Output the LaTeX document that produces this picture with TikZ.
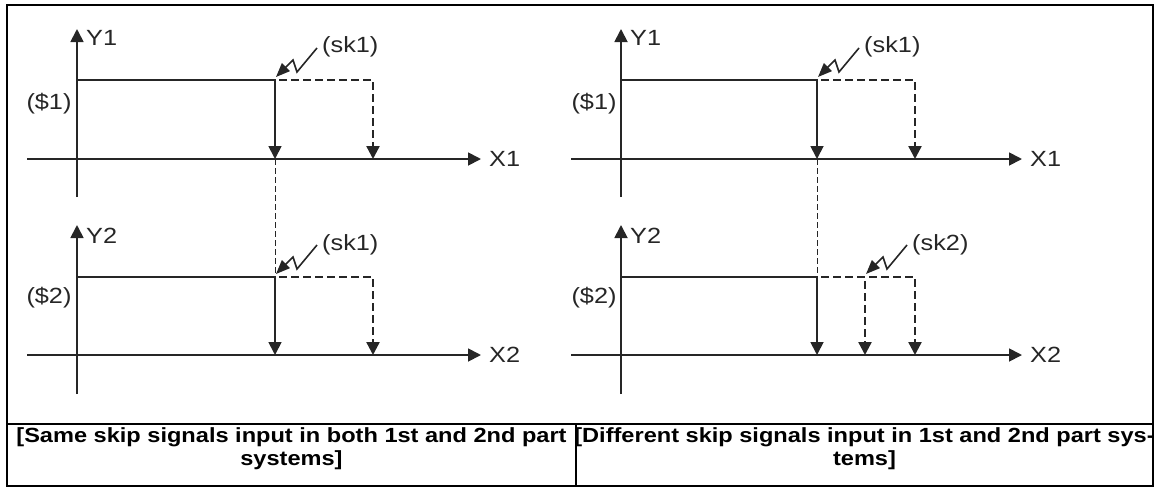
\documentclass[tikz,border=0pt]{standalone}
\usepackage{fontspec}
\setmainfont{Liberation Sans}[FakeStretch=1.15]
\usetikzlibrary{arrows.meta,positioning,calc}
\begin{document}
\begin{tikzpicture}[x=1pt,y=-1pt,>={Triangle[length=13pt,width=13pt]}]
\tikzstyle{ax}=[draw=black!85,line width=1.8pt]
\tikzstyle{dsh}=[draw=black!85,line width=2.4pt,dash pattern=on 8pt off 4pt,dash phase=-4pt]
\tikzstyle{thn}=[draw=black!85,line width=1pt,dash pattern=on 6pt off 3pt]
\tikzstyle{zig}=[draw=black!85,line width=1.6pt,-{Triangle[length=14pt,width=11pt]}]
\tikzstyle{L}=[font=\fontsize{22}{25}\selectfont,text=black!85,inner sep=0pt]
\tikzstyle{C}=[font=\bfseries\fontsize{20.5}{23}\selectfont,align=center,inner sep=0pt]
\useasboundingbox (0,0) rectangle (1154,488);
% frame and caption row
\draw[line width=2.4pt] (7,5) rectangle (1153,486);
\draw[line width=2.4pt] (7,424) -- (1153,424);
\draw[line width=2.4pt] (576,424) -- (576,486);
\node[C] (capA) at (291.5,449) {[Same skip signals input in both 1st and 2nd part\\systems]};
\node[C] (capB) at (864.5,449) {[Different skip signals input in 1st and 2nd part sys-\\tems]};

% ---- same skip signal, 1st part system
\coordinate (ya1) at (77,197); \coordinate (yb1) at (77,29);
\coordinate (xa1) at (27,159); \coordinate (xb1) at (481,159);
\draw[ax,->] (ya1) -- (yb1);
\draw[ax,->] (xa1) -- (xb1);
\node[L,anchor=west] (Y1a) at (86,38) {Y1};
\node[L,anchor=west] (X1a) at (489,159) {X1};
\node[L] (S1a) at (49,104) {(\$1)};
\coordinate (p1) at (77,80); \coordinate (q1) at (275,80); \coordinate (r1) at (373,80);
\draw[ax,->] (p1) -- (q1) -- (q1 |- xb1);
\draw[dsh,->] (q1) -- (r1) -- (r1 |- xb1);
\node[L,anchor=west] (k1a) at (322,47) {(sk1)};
\draw[zig] ($(q1)+(42,-32)$) -- ++(-20,24) -- ++(-4,-12) -- ($(q1)+(1,-3)$);

% ---- same skip signal, 2nd part system
\coordinate (ya2) at (77,394); \coordinate (yb2) at (77,225);
\coordinate (xa2) at (27,355); \coordinate (xb2) at (481,355);
\draw[ax,->] (ya2) -- (yb2);
\draw[ax,->] (xa2) -- (xb2);
\node[L,anchor=west] (Y2a) at (86,236) {Y2};
\node[L,anchor=west] (X2a) at (489,355) {X2};
\node[L] (S2a) at (49,298) {(\$2)};
\coordinate (p2) at (77,277); \coordinate (q2) at (275,277); \coordinate (r2) at (373,277);
\draw[thn] (q1 |- xb1) -- (q2);
\draw[ax,->] (p2) -- (q2) -- (q2 |- xb2);
\draw[dsh,->] (q2) -- (r2) -- (r2 |- xb2);
\node[L,anchor=west] (k2a) at (322,245) {(sk1)};
\draw[zig] ($(q2)+(42,-32)$) -- ++(-20,24) -- ++(-4,-12) -- ($(q2)+(1,-3)$);

% ---- different skip signals, 1st part system
\coordinate (ya3) at (621,197); \coordinate (yb3) at (621,29);
\coordinate (xa3) at (571,159); \coordinate (xb3) at (1022,159);
\draw[ax,->] (ya3) -- (yb3);
\draw[ax,->] (xa3) -- (xb3);
\node[L,anchor=west] (Y1b) at (630,38) {Y1};
\node[L,anchor=west] (X1b) at (1030,159) {X1};
\node[L] (S1b) at (594,104) {(\$1)};
\coordinate (p3) at (621,80); \coordinate (q3) at (817,80); \coordinate (r3) at (915,80);
\draw[ax,->] (p3) -- (q3) -- (q3 |- xb3);
\draw[dsh,->] (q3) -- (r3) -- (r3 |- xb3);
\node[L,anchor=west] (k1b) at (864,47) {(sk1)};
\draw[zig] ($(q3)+(42,-32)$) -- ++(-20,24) -- ++(-4,-12) -- ($(q3)+(1,-3)$);

% ---- different skip signals, 2nd part system
\coordinate (ya4) at (621,394); \coordinate (yb4) at (621,225);
\coordinate (xa4) at (571,355); \coordinate (xb4) at (1022,355);
\draw[ax,->] (ya4) -- (yb4);
\draw[ax,->] (xa4) -- (xb4);
\node[L,anchor=west] (Y2b) at (630,236) {Y2};
\node[L,anchor=west] (X2b) at (1030,355) {X2};
\node[L] (S2b) at (594,298) {(\$2)};
\coordinate (p4) at (621,277); \coordinate (q4) at (817,277);
\coordinate (m4) at (865,277); \coordinate (r4) at (915,277);
\draw[thn] (q3 |- xb3) -- (q4);
\draw[ax,->] (p4) -- (q4) -- (q4 |- xb4);
\draw[dsh] (q4) -- (m4);
\draw[dsh,->] (m4) -- (m4 |- xb4);
\draw[dsh,->] (m4) -- (r4) -- (r4 |- xb4);
\node[L,anchor=west] (k2b) at (912,245) {(sk2)};
\draw[zig] ($(m4)+(42,-32)$) -- ++(-20,24) -- ++(-4,-12) -- ($(m4)+(1,-3)$);
\end{tikzpicture}
\end{document}
